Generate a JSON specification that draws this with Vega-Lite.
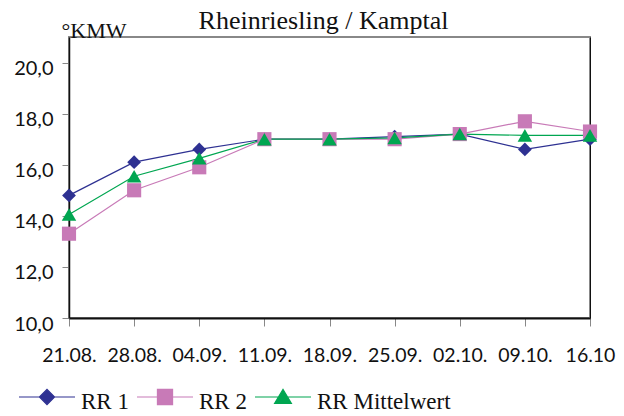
{
  "$schema": "https://vega.github.io/schema/vega-lite/v6.json",
  "width": 521,
  "height": 281,
  "autosize": {"type": "none"},
  "padding": {"left": 69, "top": 37, "right": 34, "bottom": 98},
  "background": "white",
  "title": {
    "text": "Rheinriesling / Kamptal",
    "font": "Liberation Serif",
    "fontSize": 26,
    "fontWeight": "normal",
    "color": "#111",
    "anchor": "middle",
    "frame": "group",
    "baseline": "alphabetic",
    "offset": 7,
    "dx": -6,
    "dy": 43
  },
  "data": {
    "values": [
      {"date": "21.08.", "series": "RR 1", "value": 14.8},
      {"date": "28.08.", "series": "RR 1", "value": 16.1},
      {"date": "04.09.", "series": "RR 1", "value": 16.6},
      {"date": "11.09.", "series": "RR 1", "value": 17.0},
      {"date": "18.09.", "series": "RR 1", "value": 17.0},
      {"date": "25.09.", "series": "RR 1", "value": 17.1},
      {"date": "02.10.", "series": "RR 1", "value": 17.2},
      {"date": "09.10.", "series": "RR 1", "value": 16.6},
      {"date": "16.10", "series": "RR 1", "value": 17.0},
      {"date": "21.08.", "series": "RR 2", "value": 13.3},
      {"date": "28.08.", "series": "RR 2", "value": 15.0},
      {"date": "04.09.", "series": "RR 2", "value": 15.9},
      {"date": "11.09.", "series": "RR 2", "value": 17.0},
      {"date": "18.09.", "series": "RR 2", "value": 17.0},
      {"date": "25.09.", "series": "RR 2", "value": 17.0},
      {"date": "02.10.", "series": "RR 2", "value": 17.2},
      {"date": "09.10.", "series": "RR 2", "value": 17.7},
      {"date": "16.10", "series": "RR 2", "value": 17.3},
      {"date": "21.08.", "series": "RR Mittelwert", "value": 14.05},
      {"date": "28.08.", "series": "RR Mittelwert", "value": 15.55},
      {"date": "04.09.", "series": "RR Mittelwert", "value": 16.25},
      {"date": "11.09.", "series": "RR Mittelwert", "value": 17.0},
      {"date": "18.09.", "series": "RR Mittelwert", "value": 17.0},
      {"date": "25.09.", "series": "RR Mittelwert", "value": 17.05},
      {"date": "02.10.", "series": "RR Mittelwert", "value": 17.2},
      {"date": "09.10.", "series": "RR Mittelwert", "value": 17.15},
      {"date": "16.10", "series": "RR Mittelwert", "value": 17.15}
    ]
  },
  "encoding": {
    "x": {
      "field": "date",
      "type": "nominal",
      "sort": null,
      "scale": {"type": "point", "padding": 0},
      "axis": {
        "title": null,
        "labelAngle": 0,
        "labelFont": "Lato",
        "labelFontSize": 19.5,
        "labelColor": "#111",
        "labelPadding": 20,
        "domainColor": "#111",
        "domainWidth": 2,
        "tickColor": "#888",
        "tickSize": 8,
        "tickWidth": 1
      }
    },
    "y": {
      "field": "value",
      "type": "quantitative",
      "scale": {"domain": [10, 21], "nice": false, "zero": false}
    },
    "color": {
      "field": "series",
      "type": "nominal",
      "scale": {
        "domain": ["RR 1", "RR 2", "RR Mittelwert"],
        "range": ["#2E3192", "#C87AB7", "#00A651"]
      }
    }
  },
  "layer": [
    {
      "mark": {"type": "line", "strokeWidth": 1.2},
      "encoding": {
        "y": {
          "field": "value",
          "type": "quantitative",
          "axis": {
            "orient": "left",
            "values": [10, 12, 14, 16, 18, 20],
            "labelExpr": "replace(format(datum.value, '.1f'), '.', ',')",
            "labelFont": "Lato",
            "labelFontSize": 20,
            "labelColor": "#111",
            "labelPadding": 9,
            "labelOffset": 6,
            "domainColor": "#111",
            "domainWidth": 1.5,
            "tickColor": "#888",
            "tickSize": 7,
            "grid": false,
            "title": "°KMW",
            "titleFont": "Liberation Serif",
            "titleFontSize": 22,
            "titleFontWeight": "normal",
            "titleColor": "#111",
            "titleAngle": 0,
            "titleAlign": "left",
            "titleBaseline": "alphabetic",
            "titleX": -8,
            "titleY": 0
          }
        },
        "color": {
          "field": "series",
          "type": "nominal",
          "legend": {
            "orient": "none",
            "legendX": -51,
            "legendY": 331,
            "direction": "horizontal",
            "title": null,
            "symbolSize": 3136,
            "symbolStrokeWidth": 1.2,
            "labelFont": "Liberation Serif",
            "labelFontSize": 23,
            "labelColor": "#111",
            "labelOffset": 5,
            "columnPadding": 5,
            "encode": {
              "symbols": {
                "update": {
                  "shape": {"signal": "datum.value === 'RR 1' ? 'M-1,0H1M-0.27,0L0,-0.27L0.27,0L0,0.27Z' : datum.value === 'RR 2' ? 'M-1,0H1M-0.27,-0.27H0.27V0.27H-0.27Z' : 'M-1,0H1M-0.3,0.23L0.3,0.23L0,-0.27Z'"},
                  "fill": {"scale": "color", "field": "value"},
                  "stroke": {"scale": "color", "field": "value"}
                }
              },
              "labels": {"update": {"dy": {"value": 5}}}
            }
          }
        }
      }
    },
    {
      "transform": [{"filter": "datum.series === 'RR 1'"}],
      "mark": {"type": "point", "shape": "diamond", "filled": true, "opacity": 1, "size": 190},
      "encoding": {
        "y": {
          "field": "value",
          "type": "quantitative",
          "axis": {
            "orient": "right",
            "labels": false,
            "ticks": false,
            "grid": false,
            "title": null,
            "domainColor": "#111",
            "domainWidth": 1
          }
        },
        "color": {"field": "series", "type": "nominal", "legend": null}
      }
    },
    {
      "transform": [{"filter": "datum.series === 'RR 2'"}],
      "mark": {"type": "point", "shape": "square", "filled": true, "opacity": 1, "size": 200},
      "encoding": {
        "y": {"field": "value", "type": "quantitative", "axis": null},
        "color": {"field": "series", "type": "nominal", "legend": null}
      }
    },
    {
      "transform": [{"filter": "datum.series === 'RR Mittelwert'"}],
      "mark": {"type": "point", "shape": "triangle-up", "filled": true, "opacity": 1, "size": 210},
      "encoding": {
        "y": {"field": "value", "type": "quantitative", "axis": null},
        "color": {"field": "series", "type": "nominal", "legend": null}
      }
    }
  ],
  "resolve": {"axis": {"y": "independent"}},
  "config": {
    "view": {"stroke": "#888", "strokeWidth": 2}
  }
}
